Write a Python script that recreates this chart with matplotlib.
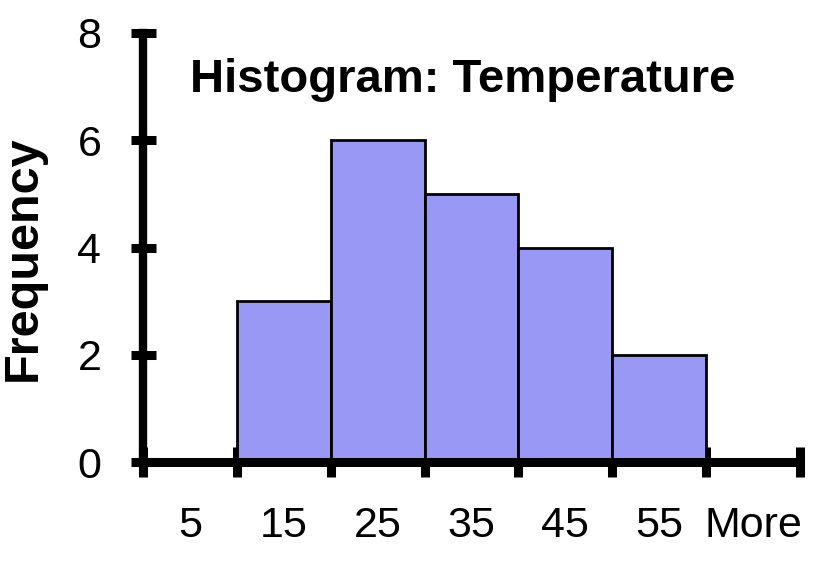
import matplotlib.pyplot as plt

bins = ['5', '15', '25', '35', '45', '55', 'More']
freq = [0, 3, 6, 5, 4, 2, 0]
yticks = [0, 2, 4, 6, 8]

plt.rcParams['font.family'] = ['Liberation Sans', 'DejaVu Sans']

fig = plt.figure(figsize=(8.38, 5.69), dpi=100)
ax = fig.add_axes([143 / 838, 1 - 462 / 569, (800 - 143) / 838, (462 - 33) / 569])

pos = [i + 0.5 for i in range(len(bins))]
ax.bar(pos, freq, width=1.0, color='#9999f5', edgecolor='black', linewidth=2.0, zorder=2)

ax.set_xlim(0, len(bins))
ax.set_ylim(0, 8)

# category boundaries get the tick marks, labels sit between them
ax.set_xticks(range(len(bins) + 1))
ax.set_xticklabels([])
ax.set_xticks(pos, minor=True)
ax.set_xticklabels(bins, minor=True, fontsize=31)
ax.tick_params(axis='x', which='major', direction='inout', length=21, width=6.5)
ax.tick_params(axis='x', which='minor', length=0, pad=32)

ax.set_yticks(yticks)
ax.set_yticklabels([str(v) for v in yticks], fontsize=31)
ax.tick_params(axis='y', direction='inout', length=18, width=6.5, pad=21)

for s in ['top', 'right']:
    ax.spines[s].set_visible(False)
ax.spines['left'].set_linewidth(6.0)
ax.spines['bottom'].set_linewidth(6.5)
ax.spines['left'].set_zorder(3)
ax.spines['bottom'].set_zorder(3)

ax.set_ylabel('Frequency', fontsize=35, fontweight='bold', va='center')
ax.yaxis.set_label_coords(-0.183, 0.475)
ax.text(0.486, 0.862, 'Histogram: Temperature', transform=ax.transAxes,
        ha='center', va='baseline', fontsize=34, fontweight='bold')

fig.savefig('out.png', dpi=100)
